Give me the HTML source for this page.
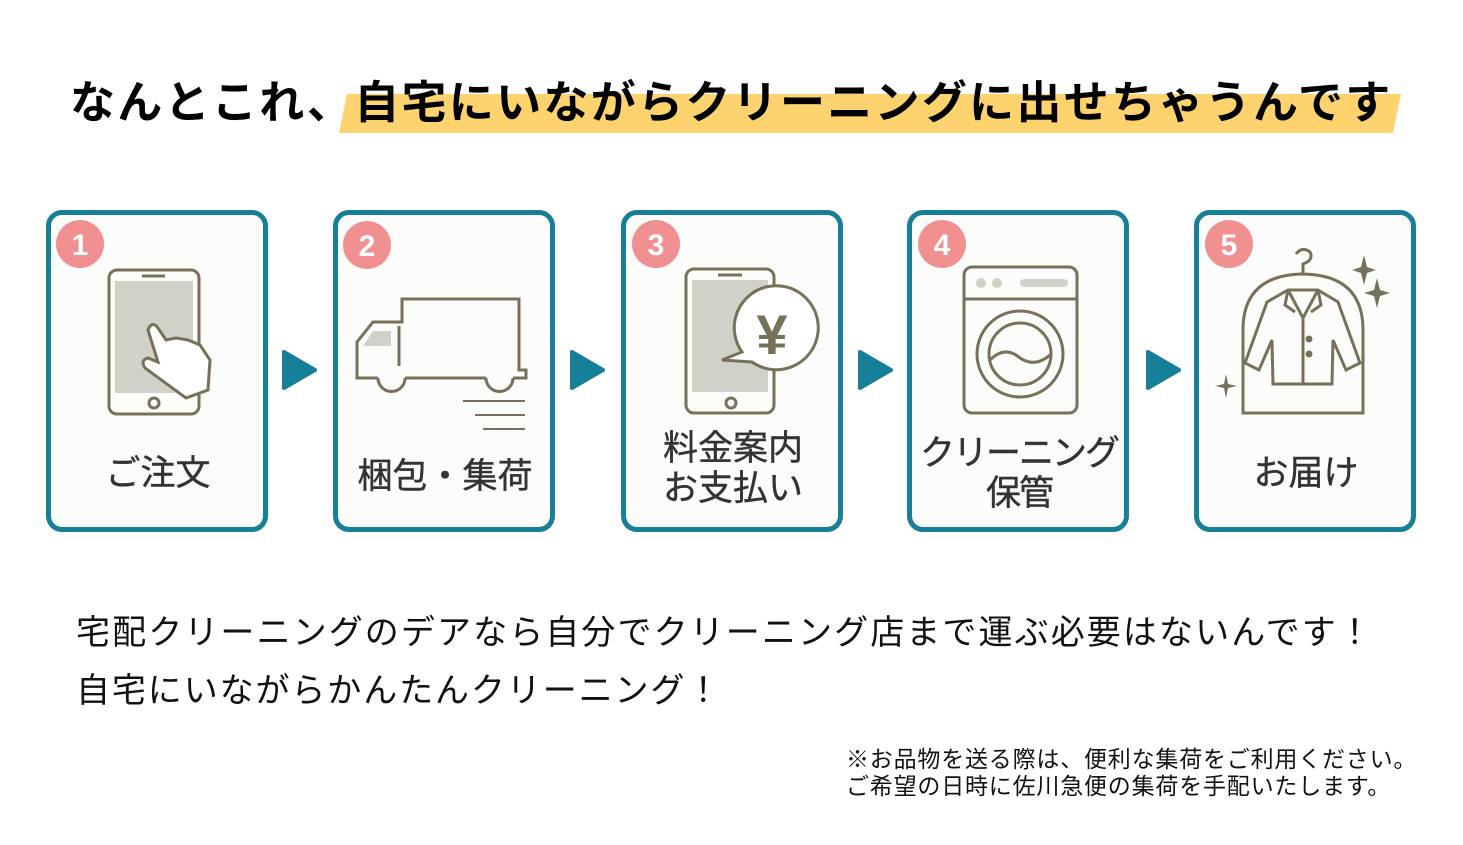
<!DOCTYPE html>
<html><head><meta charset="utf-8"><style>
*{margin:0;padding:0}
body{width:1463px;height:845px;background:#fff;position:relative;overflow:hidden;font-family:"Liberation Sans","Noto Sans CJK JP",sans-serif;}
.t{position:absolute;white-space:nowrap;}
.box{position:absolute;top:210px;width:212px;height:312px;border:5px solid #177f98;border-radius:16px;background:#fcfcfa;}
.lab{position:absolute;width:232px;text-align:center;color:#333;font-size:35px;line-height:40px;-webkit-text-stroke:0.4px #333;}
</style></head><body>
<svg width="1463" height="845" style="position:absolute;left:0;top:0">
<polygon points="347,94 1401,94 1393,133 339,133" fill="#fdd36f"/>
</svg>
<div class="t" style="left:70px;top:66px;font-size:45px;font-weight:bold;color:#000;letter-spacing:2.3px;">なんとこれ、自宅にいながらクリーニングに出せちゃうんです</div>
<div class="box" style="left:46px"></div>
<div class="box" style="left:333px"></div>
<div class="box" style="left:621px"></div>
<div class="box" style="left:907px"></div>
<div class="box" style="left:1194px"></div>
<svg width="1463" height="845" style="position:absolute;left:0;top:0">
<g fill="#177f98">
<path d="M284,352 L315,370 L284,388 Z" stroke="#177f98" stroke-width="4" stroke-linejoin="round"/>
<path d="M572,352 L603,370 L572,388 Z" stroke="#177f98" stroke-width="4" stroke-linejoin="round"/>
<path d="M860,352 L891,370 L860,388 Z" stroke="#177f98" stroke-width="4" stroke-linejoin="round"/>
<path d="M1148,352 L1179,370 L1148,388 Z" stroke="#177f98" stroke-width="4" stroke-linejoin="round"/>
</g>
<g fill="#f09090">
<circle cx="80" cy="244" r="24"/><circle cx="367" cy="245" r="24"/><circle cx="656" cy="244" r="24"/><circle cx="942" cy="244" r="24"/><circle cx="1229" cy="244" r="24"/>
</g>
<g fill="#fff" font-size="30" font-weight="bold" text-anchor="middle" font-family="Liberation Sans,sans-serif">
<text x="80" y="255">1</text><text x="367" y="256">2</text><text x="656" y="255">3</text><text x="942" y="255">4</text><text x="1229" y="255">5</text>
</g>
<g stroke="#77715b" stroke-width="3" fill="none">
<rect x="109" y="270" width="90" height="144" rx="8"/>
<rect x="115" y="281" width="78" height="112" fill="#d2d1c9" stroke="none"/>
<line x1="142" y1="276" x2="165" y2="276"/><circle cx="154" cy="403" r="5"/>
<path d="M186,398 L208,390 L210,360 L200,345 L188,340 L176,338 L166,340 L158,328 Q152,320 148,330 L158,362 L148,358 Q140,360 145,368 Z" fill="#fff"/>
<path d="M378,378 L357,378 L357,342 L373,322 L402,322 L402,299 L519,299 L519,370 L526,370 L526,378 L513,378 M486,378 L405,378"/>
<path d="M378,378 A13,13 0 0 0 405,378 M486,378 A13,13 0 0 0 513,378"/>
<line x1="399" y1="326" x2="399" y2="366"/>
<path d="M363,346 L373,331 L391,331 L391,346 Z" fill="#d2d1c9" stroke="none"/>
<line x1="463" y1="401" x2="525" y2="401" stroke-width="2"/><line x1="475" y1="415" x2="525" y2="415" stroke-width="2"/><line x1="483" y1="429" x2="525" y2="429" stroke-width="2"/>
<rect x="686" y="269" width="88" height="144" rx="8"/>
<rect x="692" y="280" width="76" height="112" fill="#d2d1c9" stroke="none"/>
<line x1="718" y1="275" x2="742" y2="275"/><circle cx="731" cy="403" r="5"/>
<path d="M742,352 A42,42 0 1 1 752,362 L722,360 Z" fill="#fff"/>
<text x="772" y="354" font-size="56" font-weight="bold" fill="#77715b" stroke="none" text-anchor="middle" font-family="Liberation Sans,sans-serif">¥</text>
<rect x="964" y="267" width="113" height="146" rx="8"/>
<line x1="964" y1="299" x2="1077" y2="299"/>
<circle cx="1020" cy="354" r="43"/><circle cx="1020" cy="354" r="31"/>
<path d="M990,360 Q1005,345 1020,358 Q1035,368 1050,355"/>
<g fill="#d2d1c9" stroke="none"><circle cx="981" cy="283" r="5"/><circle cx="997" cy="283" r="5"/><rect x="1020" y="279" width="48" height="8" rx="4"/></g>
<path d="M1243,413 L1243,330 Q1243,275 1303,274 Q1363,275 1363,330 L1363,413 Z"/>
<path d="M1303,274 L1303,264 Q1314,260 1310,252 Q1302,246 1296,254"/>
<path d="M1288,290 L1318,290 L1338,302 L1360,363 L1346,370 L1333,340 L1332,384 L1273,384 L1272,340 L1259,370 L1245,363 L1267,302 Z"/>
<path d="M1288,290 L1303,318 L1318,290 M1303,318 L1303,384 M1288,290 L1285,305 L1295,312 M1318,290 L1321,305 L1311,312"/>
<g fill="#77715b" stroke="none"><circle cx="1309" cy="339" r="3.5"/><circle cx="1309" cy="354" r="3.5"/>
<path d="M1364,255 L1367,267 L1376,270 L1367,273 L1364,285 L1361,273 L1352,270 L1361,267Z"/>
<path d="M1377,278 L1380,290 L1390,293 L1380,296 L1377,308 L1374,296 L1364,293 L1374,290Z"/>
<path d="M1226,374 L1228,384 L1237,386 L1228,388 L1226,398 L1224,388 L1215,386 L1224,384Z"/></g>
</g>
</svg>
<div class="lab" style="left:42px;top:454px">ご注文</div>
<div class="lab" style="left:329px;top:457px">梱包・集荷</div>
<div class="lab" style="left:617px;top:429px">料金案内<br>お支払い</div>
<div class="lab" style="left:903px;top:434px;letter-spacing:-2px">クリーニング<br>保管</div>
<div class="lab" style="left:1190px;top:454px">お届け</div>
<div class="t" style="left:76px;top:612px;font-size:34px;color:#111;line-height:42px;letter-spacing:2.1px">宅配クリーニングのデアなら自分でクリーニング店まで運ぶ必要はないんです！</div>
<div class="t" style="left:76px;top:670px;font-size:34px;color:#111;line-height:42px;letter-spacing:1.9px">自宅にいながらかんたんクリーニング！</div>
<div class="t" style="left:846px;top:746px;font-size:23px;color:#111;line-height:27px;letter-spacing:0.8px">※お品物を送る際は、便利な集荷をご利用ください。<br>ご希望の日時に佐川急便の集荷を手配いたします。</div>
</body></html>
